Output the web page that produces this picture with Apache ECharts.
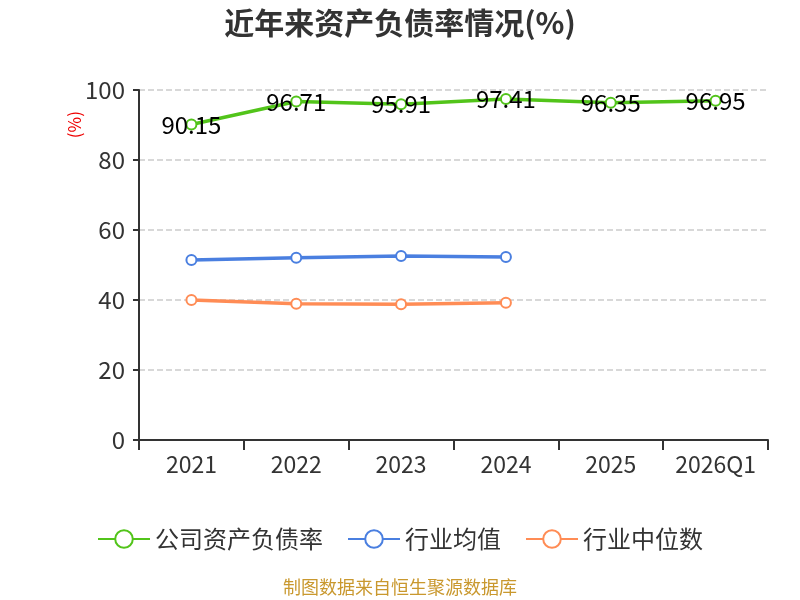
<!DOCTYPE html>
<html>
<head>
<meta charset="utf-8">
<script src="https://cdn.jsdelivr.net/npm/echarts@6/dist/echarts.min.js"></script>
<style>
    html, body { margin: 0; padding: 0; background: #fff; }
    #chart { width: 800px; height: 600px; }
</style>
</head>
<body>
<div id="chart"></div>
<script>
const years = ["2021", "2022", "2023", "2024", "2025", "2026Q1"];
const companyRatio = [90.15, 96.71, 95.91, 97.41, 96.35, 96.95];
const industryAvg = [51.4, 52.1, 52.6, 52.3];
const industryMedian = [40.0, 38.9, 38.8, 39.2];
const yTicks = { min: 0, max: 100, interval: 20 };

const chart = echarts.init(document.getElementById("chart"));
const font = "'Microsoft YaHei', 'Noto Sans CJK SC', sans-serif";

function lineSeries (name, data, color, showLabel) {
    return {
        name: name,
        type: "line",
        data: data,
        symbol: "emptyCircle",
        symbolSize: 10,
        lineStyle: { width: 3.5, color: color },
        itemStyle: { color: color, borderWidth: 2 },
        label: {
            show: showLabel,
            position: "inside",
            color: "#000",
            fontSize: 24,
            fontFamily: font
        }
    };
}

const option = {
    textStyle: { fontFamily: font },
    title: {
        text: "近年来资产负债率情况(%)",
        left: "center",
        top: 3,
        textStyle: { fontSize: 30, fontWeight: "bold", color: "#333" }
    },
    legend: {
        top: 522,
        left: "center",
        itemWidth: 52,
        itemHeight: 22,
        itemGap: 24,
        textStyle: { fontSize: 24, color: "#333" },
        data: ["公司资产负债率", "行业均值", "行业中位数"]
    },
    grid: { left: 139, right: 32, top: 90, bottom: 160 },
    xAxis: {
        type: "category",
        data: years,
        boundaryGap: true,
        axisLine: { lineStyle: { color: "#333", width: 2 } },
        axisTick: { show: true, length: 10, lineStyle: { color: "#333", width: 2 } },
        axisLabel: { interval: 0, fontSize: 23, color: "#333", margin: 13 }
    },
    yAxis: {
        type: "value",
        min: yTicks.min,
        max: yTicks.max,
        interval: yTicks.interval,
        axisLine: { show: true, lineStyle: { color: "#333", width: 2 } },
        axisTick: { show: true, length: 6, lineStyle: { color: "#333", width: 2 } },
        axisLabel: { fontSize: 24, color: "#333", margin: 14 },
        splitLine: { lineStyle: { type: "dashed", color: "#ccc", width: 1.5 } }
    },
    graphic: [
        {
            type: "text",
            left: 66,
            top: 111,
            rotation: Math.PI / 2,
            style: { text: "(%)", fill: "#e00", fontSize: 17, fontFamily: font }
        },
        {
            type: "text",
            left: "center",
            top: 578,
            style: { text: "制图数据来自恒生聚源数据库", fill: "#c9982e", fontSize: 18, fontFamily: font }
        }
    ],
    series: [
        lineSeries("公司资产负债率", companyRatio, "#52c41a", true),
        lineSeries("行业均值", industryAvg, "#4a7fe0", false),
        lineSeries("行业中位数", industryMedian, "#ff8c55", false)
    ]
};
chart.setOption(option);
</script>
</body>
</html>
